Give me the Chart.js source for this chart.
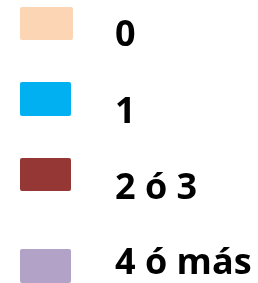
<!DOCTYPE html>
<html>
<head>
<meta charset="utf-8">
<script src="https://cdn.jsdelivr.net/npm/chart.js@4/dist/chart.umd.min.js"></script>
<style>
  html, body { margin: 0; padding: 0; background: #fff; }
  canvas { display: block; }
</style>
</head>
<body>
<canvas id="legendChart" width="258" height="283"></canvas>
<script>
const categories = [];
const seriesLabels = ["0", "1", "2 ó 3", "4 ó más"];
const seriesColors = ["#FCD5B5", "#00B0F0", "#953735", "#B3A2C7"];
const seriesValues = [[], [], [], []];

// hand-placed legend, the picture only shows the key
const legendBoxes = {
    id: 'legendBoxes',
    afterDraw(chart, args, opts) {
        const ctx = chart.ctx;
        ctx.save();
        chart.data.datasets.forEach((ds, i) => {
            const b = opts.boxes[i];
            ctx.fillStyle = ds.backgroundColor;
            ctx.beginPath();
            ctx.roundRect(b[0], b[1], b[2], b[3], 2);
            ctx.fill();
            ctx.fillStyle = "#000";
            ctx.font = "bold 36px 'Open Sans'";
            ctx.textBaseline = "middle";
            ctx.fillText(ds.label, opts.textX, opts.textY[i]);
        });
        ctx.restore();
    }
};

let chart = new Chart(document.getElementById("legendChart"), {
    type: 'bar',
    data: {
        labels: categories,
        datasets: seriesLabels.map((l, i) => ({
            label: l,
            backgroundColor: seriesColors[i],
            data: seriesValues[i]
        }))
    },
    options: {
        responsive: false,
        animation: false,
        scales: { x: { display: false }, y: { display: false } },
        plugins: {
            legend: { display: false },
            tooltip: { enabled: false },
            legendBoxes: {
                boxes: [[20, 7, 53, 33], [20, 82, 51, 34], [20, 158, 51, 33], [20, 249, 51, 34]],
                textX: 115,
                textY: [36, 113, 189, 264]
            }
        }
    },
    plugins: [legendBoxes]
});
</script>
</body>
</html>
